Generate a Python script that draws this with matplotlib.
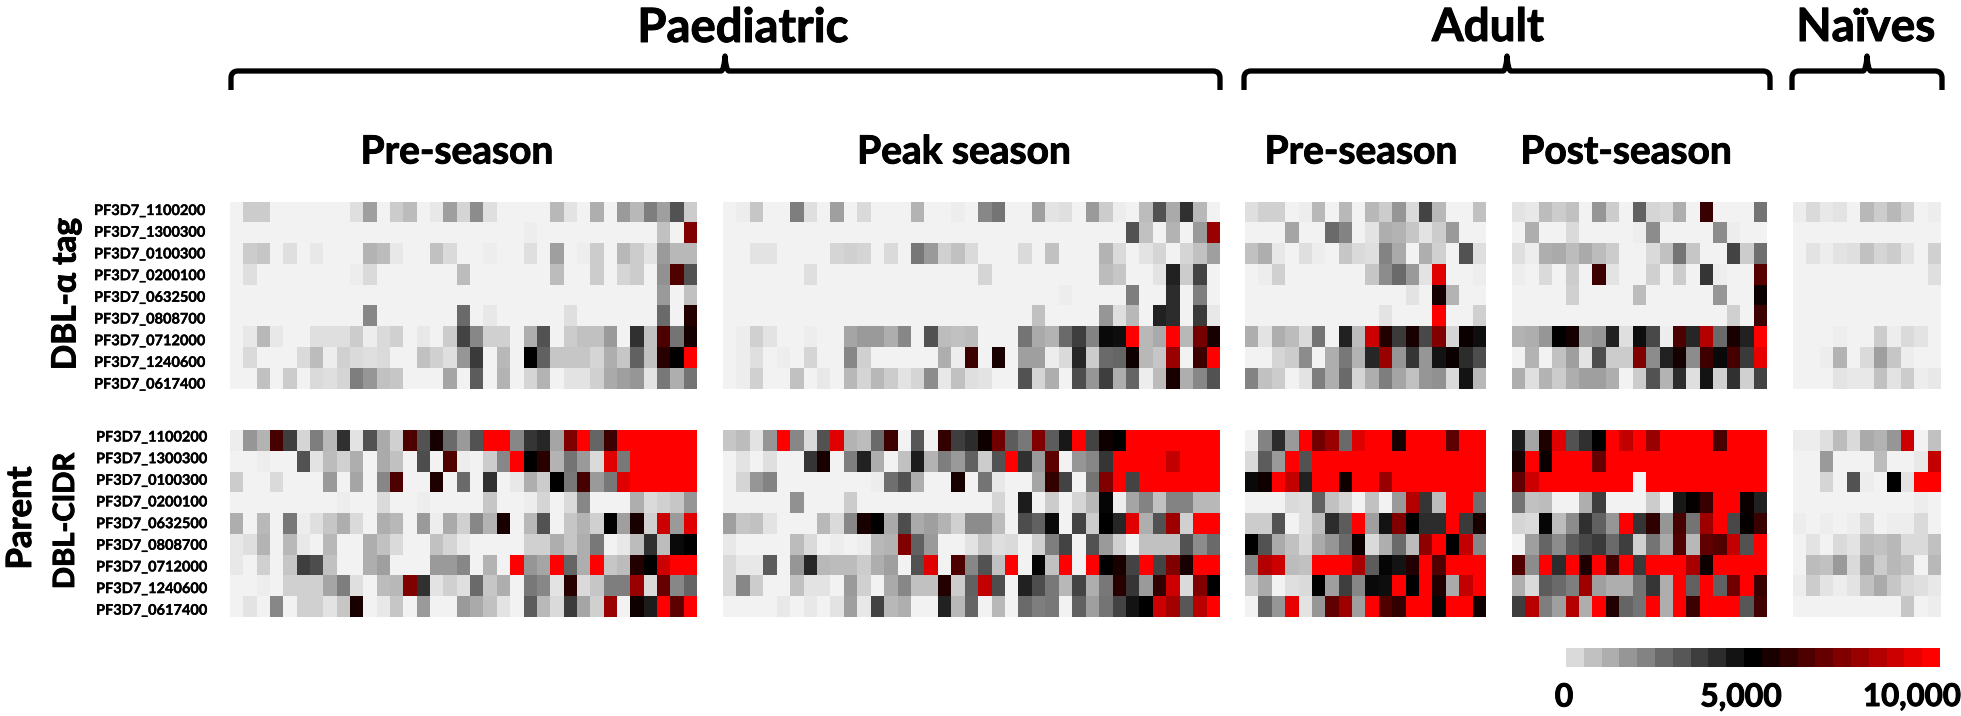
import numpy as np
import matplotlib
matplotlib.use("Agg")
import matplotlib.pyplot as plt
import matplotlib.patheffects as pe
from matplotlib.colors import LinearSegmentedColormap
from matplotlib.path import Path
from matplotlib.patches import PathPatch
from matplotlib.transforms import Affine2D

W, H = 1961, 716
plt.rcParams['font.family'] = ['Lato', 'Open Sans', 'DejaVu Sans']
plt.rcParams['font.weight'] = 'bold'

genes = ["PF3D7_1100200", "PF3D7_1300300", "PF3D7_0100300", "PF3D7_0200100", "PF3D7_0632500",
         "PF3D7_0808700", "PF3D7_0712000", "PF3D7_1240600", "PF3D7_0617400"]

# values in hundreds
paed_pre_alpha = [
 [0,8,8,0,0,0,0,0,0,4,17,0,8,11,0,2,17,6,21,4,0,0,0,0,12,3,0,14,0,18,12,24,17,33,8],
 [0,0,0,0,0,0,0,0,0,0,0,0,0,0,0,0,0,0,0,0,0,0,1,0,0,0,0,0,0,0,0,0,10,0,75],
 [0,8,9,0,4,0,2,0,0,0,13,11,2,0,0,10,5,0,0,1,0,0,4,0,17,0,1,8,0,12,8,3,18,12,12],
 [0,4,0,0,0,0,0,0,0,1,5,0,0,0,0,0,0,11,0,0,0,0,0,0,11,0,0,8,0,6,8,0,20,66,33],
 [0,0,0,0,0,0,0,0,0,0,0,0,0,0,0,0,0,0,0,0,0,0,0,0,0,0,0,0,0,0,0,0,18,0,10],
 [0,0,0,0,0,0,0,0,0,0,22,0,0,0,0,0,0,28,0,2,0,0,0,0,0,4,0,0,0,0,0,0,28,0,57],
 [0,2,12,2,0,0,4,4,4,8,1,5,7,0,2,0,8,36,22,7,7,0,14,33,0,8,10,10,18,0,40,10,65,26,54],
 [0,5,0,0,0,5,11,1,7,5,4,5,0,0,10,7,4,19,38,0,12,0,50,30,9,9,9,6,14,9,30,10,58,50,100],
 [0,0,10,0,8,0,5,4,6,24,19,10,9,0,0,0,16,0,31,0,13,0,6,13,0,3,3,7,15,17,19,3,25,14,26],
]
paed_pre_cidr = [
 [1,19,13,64,37,6,24,12,40,3,33,15,7,65,33,54,28,18,33,100,100,22,39,42,16,75,100,29,62,100,100,100,100,100,100],
 [0,0,1,0,0,33,3,11,7,14,0,15,10,0,34,0,66,1,0,8,22,100,50,58,13,26,18,5,94,25,100,100,100,100,100],
 [8,0,0,5,0,0,0,18,0,16,0,22,65,0,0,56,0,28,0,40,0,2,14,8,50,25,64,18,25,94,100,100,100,100,100],
 [0,0,0,0,0,0,0,0,1,0,0,5,0,0,1,0,0,0,0,9,0,0,1,6,0,5,22,0,0,0,14,5,7,9,19],
 [14,0,12,0,25,1,4,9,14,5,0,14,12,0,18,1,15,7,22,13,55,0,12,33,0,9,13,7,50,17,55,7,90,18,94],
 [2,4,13,0,12,2,0,12,0,0,14,10,5,0,0,10,6,2,0,0,0,0,7,7,14,9,14,25,0,2,11,40,11,48,50],
 [2,0,7,0,9,37,34,10,0,0,14,17,0,0,0,18,18,22,0,13,0,100,19,16,100,29,14,100,9,11,57,50,90,100,100],
 [0,0,1,0,7,7,7,16,24,4,0,11,12,75,40,3,7,4,28,9,14,0,25,22,3,58,5,9,24,24,80,5,70,22,29],
 [0,3,0,22,0,7,7,3,9,55,0,2,9,0,18,0,0,18,15,10,3,0,31,12,5,38,16,7,80,0,53,44,100,68,100],
]
paed_peak_alpha = [
 [0,1,9,0,0,24,4,0,17,0,5,0,0,0,13,0,0,1,0,22,26,0,0,17,3,4,0,18,8,1,0,11,33,15,40,12,0],
 [0,0,0,0,0,0,0,0,0,0,0,0,0,0,0,0,0,0,0,0,0,0,0,0,0,0,0,0,0,0,33,10,0,13,0,18,80],
 [0,0,3,3,0,0,0,0,6,7,6,0,5,0,25,18,7,10,5,0,0,0,5,0,10,0,0,0,13,5,0,3,6,0,6,10,17],
 [0,0,0,0,0,0,4,0,0,0,0,0,0,0,0,0,0,0,0,6,0,0,0,0,0,0,0,0,11,9,0,0,3,43,8,36,0],
 [0,0,0,0,0,0,0,0,0,0,0,0,0,0,0,0,0,0,0,0,0,0,0,0,0,1,0,0,0,0,24,0,0,41,0,24,0],
 [0,0,0,0,0,0,0,0,0,0,0,0,0,0,0,0,0,0,0,0,0,0,0,10,0,0,0,0,19,4,12,0,43,41,0,38,2],
 [0,1,7,3,0,0,1,0,0,16,18,18,14,22,0,33,11,10,11,0,0,0,26,15,13,28,37,23,48,47,100,12,15,100,12,73,55],
 [0,1,4,0,1,0,6,0,0,22,7,0,0,0,0,0,14,1,62,0,55,0,17,17,1,5,42,8,28,29,53,12,9,80,0,62,100],
 [0,1,7,0,0,10,0,2,0,12,6,12,8,3,6,21,2,10,4,3,0,0,33,6,14,0,34,19,37,14,29,1,11,55,14,22,33],
]
paed_peak_cidr = [
 [9,11,3,19,100,22,5,33,94,13,11,28,62,0,32,0,60,37,41,53,72,31,25,75,31,45,100,36,53,50,100,100,100,100,100,100,100],
 [0,3,0,4,0,0,39,55,0,24,43,14,0,10,44,13,24,18,30,8,33,100,40,18,68,0,19,22,39,100,100,100,100,88,100,100,100],
 [0,6,19,23,0,0,0,0,0,0,0,1,27,33,14,0,0,55,0,26,2,0,0,16,60,36,0,26,75,100,36,100,100,100,100,100,100],
 [0,0,0,0,0,20,0,0,0,8,0,0,0,0,0,0,0,0,0,0,6,0,44,0,8,0,6,12,49,1,16,23,10,23,23,12,12],
 [17,9,10,3,0,0,0,12,5,22,55,50,15,34,15,17,13,7,21,21,11,0,34,30,48,0,36,8,50,42,94,14,33,81,7,100,100],
 [2,0,0,0,0,11,5,0,1,0,1,12,13,75,30,18,0,0,3,9,4,5,0,7,24,36,0,33,18,7,0,10,10,10,33,21,28],
 [5,2,2,31,0,19,42,12,11,11,8,14,17,0,33,94,0,65,22,33,10,100,0,49,10,100,0,100,50,55,36,100,36,75,55,100,100],
 [5,22,8,0,0,10,3,3,0,18,7,0,15,22,10,10,57,8,30,88,34,0,43,34,25,12,36,14,25,58,39,18,60,90,5,75,50],
 [0,0,0,0,2,0,2,0,3,17,2,36,12,14,0,0,43,12,29,0,12,0,28,24,25,0,30,17,26,36,46,50,90,82,32,86,100],
]
adult_pre_alpha = [
 [4,7,7,0,1,12,0,12,0,12,8,19,5,36,12,0,0,10],
 [0,0,0,16,0,0,28,23,0,3,14,13,9,3,8,18,0,0],
 [10,14,2,0,4,1,0,9,5,4,23,15,0,14,7,0,33,4],
 [0,1,7,0,0,0,0,0,0,9,21,28,18,3,94,0,0,1],
 [0,0,0,0,0,0,0,0,0,0,0,0,3,0,54,13,0,0],
 [0,0,0,0,0,0,0,0,0,0,3,0,0,0,100,0,0,7],
 [14,3,14,11,5,26,0,43,11,90,57,38,55,35,75,6,52,47],
 [0,0,6,8,21,0,14,25,13,42,80,19,39,19,46,52,41,34],
 [23,10,8,0,3,24,14,28,6,14,24,16,10,19,20,5,46,12],
]
adult_pre_cidr = [
 [0,23,41,18,100,72,80,28,94,100,100,55,100,100,100,68,100,100],
 [5,31,18,100,33,100,100,100,100,100,100,100,100,100,100,100,100,100],
 [48,53,100,88,43,100,100,53,100,100,80,100,100,100,100,100,100,100],
 [0,0,0,5,4,30,10,6,0,10,0,18,85,39,11,100,100,27],
 [8,8,33,0,4,11,41,31,100,17,46,75,50,41,41,100,38,55],
 [50,33,15,10,5,15,19,28,52,5,14,28,11,78,100,50,88,22],
 [22,85,90,11,10,100,100,100,83,31,49,46,57,100,66,100,100,100],
 [8,15,0,4,5,50,17,37,22,48,47,100,50,100,56,15,88,100],
 [0,29,19,95,3,19,69,81,17,100,66,60,100,100,49,100,100,53],
]
adult_post_alpha = [
 [3,2,11,8,10,0,19,8,0,30,6,5,14,0,61,0,0,0,26],
 [0,14,0,0,5,0,0,0,0,1,21,0,0,0,0,21,1,0,0],
 [4,1,14,15,11,15,11,8,0,0,5,10,26,9,0,0,36,8,27],
 [1,0,5,0,8,0,62,3,0,0,7,0,8,0,39,1,0,0,67],
 [0,0,0,0,7,0,0,0,0,11,0,0,0,0,0,19,0,0,52],
 [0,0,0,0,0,0,0,0,0,0,0,0,0,0,0,0,7,0,62],
 [13,14,19,50,54,17,19,43,4,47,35,1,65,42,85,28,55,43,100],
 [0,13,0,10,17,3,34,8,8,75,21,43,54,21,62,48,64,38,95],
 [14,4,13,8,14,17,17,14,0,8,33,13,41,4,46,7,40,7,36],
]
adult_post_cidr = [
 [44,16,56,94,33,40,50,100,88,100,80,100,100,100,100,64,100,100,100],
 [55,100,52,100,100,100,70,100,100,100,100,100,100,100,100,100,100,100,100],
 [69,90,100,100,100,100,100,100,100,0,100,100,100,100,100,100,100,100,100],
 [26,10,11,0,0,14,37,0,0,0,8,0,45,51,61,100,100,52,43],
 [6,5,49,11,21,40,30,19,100,39,59,19,64,26,81,100,35,51,61],
 [0,17,29,21,31,35,38,28,37,7,26,15,66,12,69,66,88,33,100],
 [66,21,100,41,100,56,100,63,100,38,100,100,100,83,53,100,100,100,100],
 [14,5,31,28,24,81,17,14,14,26,39,14,100,30,100,30,72,100,61],
 [37,86,24,17,85,14,100,57,29,26,100,14,100,62,100,100,100,32,63],
]
naive_alpha = [
 [1,5,2,3,0,12,8,12,7,0,1],
 [0,0,0,0,0,0,0,0,0,0,0],
 [0,3,1,3,4,10,6,8,3,0,7],
 [0,0,0,0,0,0,0,0,0,0,4],
 [0,0,0,0,0,0,0,0,0,0,0],
 [0,0,0,0,0,0,0,0,0,0,0],
 [0,0,0,1,0,0,8,1,5,3,0],
 [0,0,1,13,0,5,17,9,1,0,0],
 [0,0,0,3,2,2,10,3,8,1,2],
]
naive_cidr = [
 [1,1,4,11,5,15,13,19,90,0,10],
 [0,0,18,0,0,0,11,0,0,2,88],
 [0,0,6,0,33,1,0,50,3,100,100],
 [0,0,0,0,0,0,0,0,0,1,0],
 [1,0,1,0,1,5,0,1,1,5,0],
 [0,3,0,5,3,11,10,12,5,5,10],
 [0,11,10,18,5,16,8,12,10,0,12],
 [1,8,3,1,3,10,15,9,5,4,2],
 [0,0,0,0,0,0,0,0,9,0,1],
]
colorbar_steps = [5,10,14,19,23,28,32,37,41,46,50,55,60,65,70,75,80,85,90,95,100]

cmap = LinearSegmentedColormap.from_list("g2k2r", [(0, "#f2f2f2"), (0.5, "#000000"), (1, "#ff0000")], N=512)

fig = plt.figure(figsize=(W/100, H/100), dpi=100, facecolor="white")

def axpx(x0, y0, x1, y1):
    ax = fig.add_axes([x0/W, 1-y1/H, (x1-x0)/W, (y1-y0)/H])
    ax.set_xticks([]); ax.set_yticks([])
    for s in ax.spines.values():
        s.set_visible(False)
    return ax

def heat(data, x0, y0, x1, y1):
    ax = axpx(x0, y0, x1, y1)
    ax.imshow(np.array(data)*100, cmap=cmap, vmin=0, vmax=10000, aspect="auto", interpolation="nearest")
    return ax

top = (202, 389)
bot = (430, 617)
panels = [
 (230, 697, paed_pre_alpha, paed_pre_cidr),
 (723, 1219, paed_peak_alpha, paed_peak_cidr),
 (1245, 1486, adult_pre_alpha, adult_pre_cidr),
 (1512, 1767, adult_post_alpha, adult_post_cidr),
 (1793, 1941, naive_alpha, naive_cidr),
]
for x0, x1, a, c in panels:
    heat(a, x0, top[0], x1, top[1])
    heat(c, x0, bot[0], x1, bot[1])

def t(x, y, s, size, stroke=0.7, **kw):
    fig.text(x/W, 1-y/H, s, fontsize=size, ha=kw.pop("ha", "center"), va=kw.pop("va", "center"),
             fontweight="bold", color="black",
             path_effects=[pe.withStroke(linewidth=stroke, foreground="black")], **kw)

for i, g in enumerate(genes):
    t(94, 211+21.7*i, g, 10.5, stroke=0.25, ha="left")
    t(96, 437.5+21.65*i, g, 10.5, stroke=0.25, ha="left")

t(743, 28, "Paediatric", 34)
t(1488, 28, "Adult", 33)
t(1866, 28, "Naïves", 33)
t(457, 152, "Pre-season", 28)
t(964, 152, "Peak season", 28)
t(1361, 152, "Pre-season", 28)
t(1626, 152, "Post-season", 28)
t(66, 294, "DBL-α tag", 24, rotation=90)
t(21, 518, "Parent", 25, rotation=90)
t(66, 521, "DBL-CIDR", 21, rotation=90)

cb = axpx(1566, 648, 1939, 667)
cb.imshow(np.array([colorbar_steps])*100, cmap=cmap, vmin=0, vmax=10000, aspect="auto", interpolation="nearest")
t(1564, 697, "0", 23)
t(1741, 697, "5,000", 23)
t(1912, 697, "10,000", 22.5)

def brace(x0, xm, x1, ytop=71, ybot=90, ytip=56):
    r = 7
    verts = [(x0, ybot), (x0, ytop+r), (x0, ytop), (x0+r, ytop),
             (xm-4, ytop), (xm-1, ytop), (xm, ytip),
             (xm+1, ytop), (xm+4, ytop),
             (x1-r, ytop), (x1, ytop), (x1, ytop+r), (x1, ybot)]
    codes = [Path.MOVETO, Path.LINETO, Path.CURVE3, Path.CURVE3,
             Path.LINETO, Path.CURVE3, Path.CURVE3,
             Path.CURVE3, Path.CURVE3,
             Path.LINETO, Path.CURVE3, Path.CURVE3, Path.LINETO]
    tr = Affine2D().scale(1, -1).translate(0, H) + Affine2D().scale(1/W, 1/H) + fig.transFigure
    fig.add_artist(PathPatch(Path(verts, codes), fill=False, lw=3.8, ec="black", transform=tr, capstyle="butt", joinstyle="round"))

brace(231, 725, 1220)
brace(1244, 1507, 1770)
brace(1792, 1867, 1942)

fig.savefig("out.png", dpi=100, facecolor="white")
